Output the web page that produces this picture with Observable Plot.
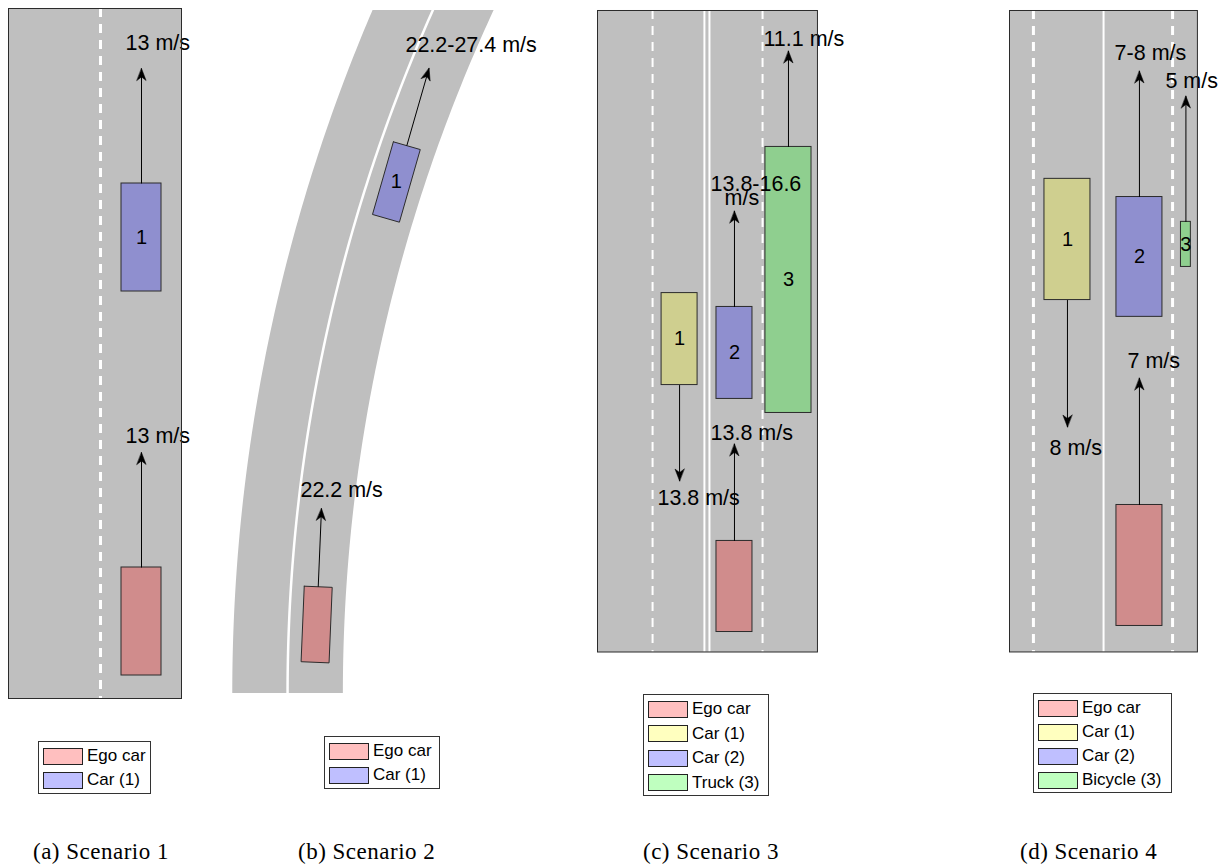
<!DOCTYPE html>
<html>
<head>
<meta charset="utf-8">
<script src="https://cdn.jsdelivr.net/npm/d3@7"></script>
<script src="https://cdn.jsdelivr.net/npm/@observablehq/plot@0.6"></script>
<style>
  html, body { margin: 0; background: #fff; }
  #figure { position: relative; width: 1227px; height: 868px; overflow: hidden; background: #fff; }
  #figure svg { position: absolute; overflow: visible; max-width: none; }
  .legend { position: absolute; box-sizing: border-box; border: 1px solid #333; background: #fff;
            padding-top: 2px; font: 17px "Liberation Sans", Arial, sans-serif; color: #000; }
  .legend .row { display: flex; align-items: center; }
  .legend .sw { box-sizing: border-box; width: 40px; height: 17px; border: 1px solid #222; margin: 0 4px; }
  .caption { position: absolute; font: 23px "Liberation Serif", "Times New Roman", serif;
             letter-spacing: 0.5px; line-height: 23px; white-space: nowrap; color: #000; }
</style>
</head>
<body>
<div id="figure"></div>
<script>
// ---------------------------------------------------------------
// Scenario data (distances in metres)
// ---------------------------------------------------------------
const captions = ["(a) Scenario 1", "(b) Scenario 2", "(c) Scenario 3", "(d) Scenario 4"];

const legendA = ["Ego car", "Car (1)"];
const legendB = ["Ego car", "Car (1)"];
const legendC = ["Ego car", "Car (1)", "Car (2)", "Truck (3)"];
const legendD = ["Ego car", "Car (1)", "Car (2)", "Bicycle (3)"];

// Straight roads: width of the viewed road and viewed length
const roadA = {width: 8.65, length: 34.5};
const roadC = {width: 12.22, length: 35.64};
const roadD = {width: 8.17, length: 27.89};

// Lane markings: offset from the left road edge
const markingsA = [{offset: 4.6, type: "dashed"}];
const markingsC = [
  {offset: 3.06, type: "dashed"},
  {offset: 5.94, type: "solid"},
  {offset: 6.22, type: "solid"},
  {offset: 9.17, type: "dashed"}
];
const markingsD = [
  {offset: 1.04, type: "dashed"},
  {offset: 4.09, type: "solid"},
  {offset: 7.09, type: "dashed"}
];

// Vehicles on straight roads: lateral centre, width, rear/front along the road,
// travel direction (+1 up the road, -1 oncoming) and length of the speed arrow
const vehiclesA = [
  {name: "Ego car", tag: "",  lateral: 6.65, width: 2.0, rear: 1.15,  front: 6.55,  dir: 1, reach: 5.75},
  {name: "Car (1)", tag: "1", lateral: 6.65, width: 2.0, rear: 20.35, front: 25.75, dir: 1, reach: 5.75}
];
const vehiclesC = [
  {name: "Ego car",   tag: "",  lateral: 7.61,  width: 2.0,  rear: 1.11,  front: 6.17,  dir: 1,  reach: 5.39},
  {name: "Car (1)",   tag: "1", lateral: 4.56,  width: 2.0,  rear: 14.83, front: 19.94, dir: -1, reach: 5.33},
  {name: "Car (2)",   tag: "2", lateral: 7.61,  width: 2.0,  rear: 14.06, front: 19.17, dir: 1,  reach: 5.33},
  {name: "Truck (3)", tag: "3", lateral: 10.61, width: 2.56, rear: 13.28, front: 28.06, dir: 1,  reach: 5.33}
];
const vehiclesD = [
  {name: "Ego car",     tag: "",  lateral: 5.65, width: 2.0,  rear: 1.13,  front: 6.39,  dir: 1,  reach: 5.52},
  {name: "Car (1)",     tag: "1", lateral: 2.52, width: 2.0,  rear: 15.3,  front: 20.57, dir: -1, reach: 5.52},
  {name: "Car (2)",     tag: "2", lateral: 5.65, width: 2.0,  rear: 14.57, front: 19.78, dir: 1,  reach: 5.48},
  {name: "Bicycle (3)", tag: "3", lateral: 7.67, width: 0.43, rear: 16.74, front: 18.7,  dir: 1,  reach: 5.47}
];

// Speed annotations (left end, vertical middle)
const speedsA = [
  {text: "13 m/s", x: 5.85, y: 32.75},
  {text: "13 m/s", x: 5.85, y: 13.1}
];
const speedsB = [
  {text: "22.2 m/s", x: 5.71, y: 14.5},
  {text: "22.2-27.4 m/s", x: 13.21, y: 46.29}
];
const speedsC = [
  {text: "13.8 m/s", x: 3.33, y: 8.56},
  {text: "13.8-16.6", x: 6.28, y: 26.0},
  {text: "m/s", x: 7.06, y: 25.22},
  {text: "13.8 m/s", x: 6.28, y: 12.17},
  {text: "11.1 m/s", x: 9.22, y: 34.06}
];
const speedsD = [
  {text: "8 m/s", x: 1.74, y: 8.87},
  {text: "7-8 m/s", x: 4.57, y: 26.04},
  {text: "5 m/s", x: 6.78, y: 24.83},
  {text: "7 m/s", x: 5.13, y: 12.65}
];

// Curved road (scenario 2): centre-line radius, lane width, centre-line offset at the
// bottom of the view, and the viewed extent
const curveB = {radius: 120, laneWidth: 3.95, baseOffset: 4.79, viewWidth: 24.29, viewLength: 48.79};
// Vehicles on the curve: lane (+1 inner/right lane), arc position of the centre,
// and yaw relative to the lane direction (degrees)
const vehiclesB = [
  {name: "Ego car", tag: "",  lane: 1, s: 4.93,  length: 5.4, width: 2.0, reach: 5.6,  yaw: 0},
  {name: "Car (1)", tag: "1", lane: 1, s: 37.15, length: 5.4, width: 2.0, reach: 5.75, yaw: -2}
];

// ---------------------------------------------------------------
// Styling
// ---------------------------------------------------------------
const ROAD = "#bfbfbf";
const OUTLINE = "#2b2b2b";
const FONT = "Liberation Sans, Arial, sans-serif";
const SPEED_SIZE = 21.5;
const fillsAB = ["#d08c8c", "#8f8fcf"];
const swatchesAB = ["#ffbfbf", "#bfbfff"];
const fillsCD = ["#d08c8c", "#cfcf8f", "#8f8fcf", "#8fcf8f"];
const swatchesCD = ["#ffbfbf", "#ffffbf", "#bfbfff", "#bfffbf"];

// Concave arrowhead drawn at the end of each speed arrow
const arrowHead = {
  draw(context, l) {
    context.moveTo(0, -l);
    context.lineTo(4.6, 0);
    context.lineTo(0, -0.3 * l);
    context.lineTo(-4.6, 0);
    context.closePath();
  }
};

const figure = document.getElementById("figure");

function place(svg, left, top) {
  svg.style.left = left + "px";
  svg.style.top = top + "px";
  figure.appendChild(svg);
}

function straightPanel({road, markings, vehicles, speeds, names, fills, k, left, top, dashWidth}) {
  const m = {top: 40, right: 70, bottom: 20, left: 20};
  const base = d => d.dir > 0 ? d.front : d.rear;
  const tip = d => base(d) + d.dir * d.reach;
  const svg = Plot.plot({
    width: road.width * k + m.left + m.right,
    height: road.length * k + m.top + m.bottom,
    marginTop: m.top, marginRight: m.right, marginBottom: m.bottom, marginLeft: m.left,
    x: {domain: [0, road.width], axis: null},
    y: {domain: [0, road.length], axis: null},
    color: {domain: names, range: fills},
    style: {background: "transparent", overflow: "visible"},
    marks: [
      Plot.frame({fill: ROAD, stroke: "none"}),
      Plot.ruleX(markings.filter(d => d.type === "dashed"),
        {x: "offset", stroke: "white", strokeWidth: dashWidth, strokeDasharray: "9,7"}),
      Plot.ruleX(markings.filter(d => d.type === "solid"),
        {x: "offset", stroke: "white", strokeWidth: 2}),
      Plot.rect(vehicles, {
        x1: d => d.lateral - d.width / 2, x2: d => d.lateral + d.width / 2,
        y1: "rear", y2: "front", fill: "name", stroke: OUTLINE, strokeWidth: 1
      }),
      Plot.link(vehicles, {x1: "lateral", x2: "lateral", y1: base, y2: tip, stroke: "black", strokeWidth: 1}),
      Plot.vector(vehicles, {
        x: "lateral", y: tip, rotate: d => d.dir > 0 ? 0 : 180,
        length: 12, anchor: "end", shape: arrowHead, fill: "black", stroke: "black", strokeWidth: 0.5
      }),
      Plot.text(vehicles, {
        x: "lateral", y: d => (d.rear + d.front) / 2, text: "tag",
        fontSize: 20, fontFamily: FONT, fill: "black"
      }),
      Plot.text(speeds, {x: "x", y: "y", text: "text", textAnchor: "start", fontSize: SPEED_SIZE, fontFamily: FONT, fill: "black"}),
      Plot.frame({stroke: OUTLINE, strokeWidth: 1})
    ]
  });
  place(svg, left - m.left, top - m.top);
}

function curvedPanel({curve, vehicles, speeds, names, fills, k, left, top}) {
  const m = {top: 20, right: 70, bottom: 20, left: 20};
  const cx = curve.baseOffset + curve.radius;
  const pt = (r, th) => [cx - r * Math.cos(th), r * Math.sin(th)];
  const angles = d3.range(0, 0.5001, 0.004);
  const rOuter = curve.radius + curve.laneWidth;
  const rInner = curve.radius - curve.laneWidth;
  const roadShape = [
    ...angles.map(a => pt(rOuter, a)),
    ...angles.slice().reverse().map(a => pt(rInner, a))
  ].map(([x, y]) => ({x, y}));
  const centreLine = angles.map(a => pt(curve.radius, a)).map(([x, y]) => ({x, y}));

  // vehicle outlines, arrow bases/tips and headings along the curve
  const outlines = [], arrows = [], centres = [];
  for (const v of vehicles) {
    const r = curve.radius - v.lane * curve.laneWidth / 2;
    const th = v.s / r;
    const [x0, y0] = pt(r, th);
    const hd = th + v.yaw * Math.PI / 180;
    const f = [Math.sin(hd), Math.cos(hd)];   // forward
    const n = [Math.cos(hd), -Math.sin(hd)];  // to the right
    const corner = (a, b) => ({
      name: v.name,
      x: x0 + f[0] * a * v.length / 2 + n[0] * b * v.width / 2,
      y: y0 + f[1] * a * v.length / 2 + n[1] * b * v.width / 2
    });
    outlines.push(corner(1, -1), corner(1, 1), corner(-1, 1), corner(-1, -1), corner(1, -1));
    const bx = x0 + f[0] * v.length / 2, by = y0 + f[1] * v.length / 2;
    arrows.push({x1: bx, y1: by, x2: bx + f[0] * v.reach, y2: by + f[1] * v.reach, rotate: hd * 180 / Math.PI});
    centres.push({x: x0, y: y0, tag: v.tag});
  }

  const svg = Plot.plot({
    width: curve.viewWidth * k + m.left + m.right,
    height: curve.viewLength * k + m.top + m.bottom,
    marginTop: m.top, marginRight: m.right, marginBottom: m.bottom, marginLeft: m.left,
    x: {domain: [0, curve.viewWidth], axis: null},
    y: {domain: [0, curve.viewLength], axis: null},
    color: {domain: names, range: fills},
    style: {background: "transparent", overflow: "visible"},
    marks: [
      Plot.line(roadShape, {x: "x", y: "y", fill: ROAD, stroke: "none", clip: true}),
      Plot.line(centreLine, {x: "x", y: "y", stroke: "white", strokeWidth: 2.5, clip: true}),
      Plot.line(outlines, {x: "x", y: "y", z: "name", fill: "name", stroke: OUTLINE, strokeWidth: 1}),
      Plot.link(arrows, {x1: "x1", y1: "y1", x2: "x2", y2: "y2", stroke: "black", strokeWidth: 1}),
      Plot.vector(arrows, {
        x: "x2", y: "y2", rotate: "rotate", length: 12, anchor: "end",
        shape: arrowHead, fill: "black", stroke: "black", strokeWidth: 0.5
      }),
      Plot.text(centres, {x: "x", y: "y", text: "tag", fontSize: 20, fontFamily: FONT, fill: "black"}),
      Plot.text(speeds, {x: "x", y: "y", text: "text", textAnchor: "start", fontSize: SPEED_SIZE, fontFamily: FONT, fill: "black"})
    ]
  });
  place(svg, left - m.left, top - m.top);
}

function legendBox(names, swatches, {left, top, width, height, row}) {
  const box = document.createElement("div");
  box.className = "legend";
  Object.assign(box.style, {left: left + "px", top: top + "px", width: width + "px", height: height + "px"});
  names.forEach((name, i) => {
    const r = document.createElement("div");
    r.className = "row";
    r.style.height = row + "px";
    const sw = document.createElement("div");
    sw.className = "sw";
    sw.style.background = swatches[i];
    const label = document.createElement("span");
    label.textContent = name;
    r.append(sw, label);
    box.appendChild(r);
  });
  figure.appendChild(box);
}

function caption(text, left, top) {
  const c = document.createElement("div");
  c.className = "caption";
  c.textContent = text;
  c.style.left = left + "px";
  c.style.top = top + "px";
  figure.appendChild(c);
}

// ---------------------------------------------------------------
// Panels
// ---------------------------------------------------------------
straightPanel({road: roadA, markings: markingsA, vehicles: vehiclesA, speeds: speedsA,
  names: legendA, fills: fillsAB, k: 20, left: 8, top: 8, dashWidth: 3});
curvedPanel({curve: curveB, vehicles: vehiclesB, speeds: speedsB,
  names: legendB, fills: fillsAB, k: 14, left: 220, top: 10});
straightPanel({road: roadC, markings: markingsC, vehicles: vehiclesC, speeds: speedsC,
  names: legendC, fills: fillsCD, k: 18, left: 597, top: 9.5, dashWidth: 2});
straightPanel({road: roadD, markings: markingsD, vehicles: vehiclesD, speeds: speedsD,
  names: legendD, fills: fillsCD, k: 23, left: 1009, top: 9.5, dashWidth: 3});

legendBox(legendA, swatchesAB, {left: 38, top: 741, width: 113, height: 53, row: 24});
legendBox(legendB, swatchesAB, {left: 324, top: 736, width: 116, height: 53, row: 24});
legendBox(legendC, swatchesCD, {left: 643, top: 694, width: 126, height: 102, row: 24.5});
legendBox(legendD, swatchesCD, {left: 1033, top: 693, width: 139, height: 100, row: 24});

caption(captions[0], 33, 840);
caption(captions[1], 298, 840);
caption(captions[2], 643, 840);
caption(captions[3], 1020, 840);
</script>
</body>
</html>
